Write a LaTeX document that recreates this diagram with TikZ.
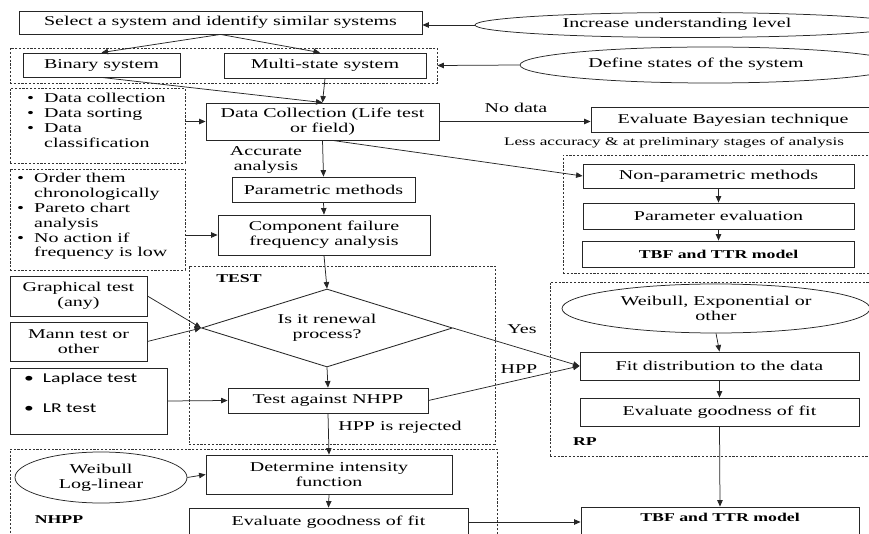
\documentclass[tikz,border=0pt]{standalone}
\usepackage{fontspec}
\setmainfont{Liberation Serif}[FakeStretch=1.48]
\newfontfamily\sansf{Carlito}[FakeStretch=1.45]
\usetikzlibrary{shapes.geometric,arrows.meta}
\newcommand{\fsz}{\fontsize{13.5}{14.8}\selectfont}
\newcommand{\fbz}{\fontsize{12}{14}\selectfont\bfseries}
\begin{document}
\begin{tikzpicture}[x=1pt,y=-1pt,
  box/.style={draw=black!85, line width=0.85pt, inner sep=0pt, align=center, font=\fsz},
  dbox/.style={draw=black!80, line width=0.7pt, dash pattern=on 2.2pt off 1.6pt, inner sep=0pt},
  ell/.style={ellipse, draw=black!85, line width=0.75pt, inner sep=0pt, align=center, font=\fsz},
  lbl/.style={inner sep=0pt, align=center, font=\fsz},
  hd/.style={inner sep=0pt, font=\fbz},
  arr/.style={draw=black!85, line width=0.75pt, -{Triangle[length=6.5pt,width=5.5pt]}},
]
\useasboundingbox (0,0) rectangle (869,534);
% dashed groups
\node[dbox, minimum width=427pt, minimum height=35pt] (row) at (223.5,65.5) {};
\node[dbox, minimum width=175pt, minimum height=75pt] (l1) at (97.5,125.5) {};
\node[dbox, minimum width=175pt, minimum height=101pt] (l2) at (97.5,219.5) {};
\node[dbox, minimum width=312pt, minimum height=118pt] (np) at (719,214) {};
\node[dbox, minimum width=306pt, minimum height=178pt] (test) at (342,355) {};
\node[dbox, minimum width=325pt, minimum height=174pt] (rp) at (712.5,369) {};
\node[dbox, minimum width=487pt, minimum height=111pt] (nh) at (253.5,504.5) {};
% top
\node[box, minimum width=403pt, minimum height=23pt] (sel) at (220.5,22.5) {Select a system and identify similar systems};
\node[ell, minimum width=430pt, minimum height=25pt] (inc) at (690,25) {};
\node[lbl] (inct) at (677,24) {Increase understanding level};
\node[box, minimum width=157pt, minimum height=24pt] (bin) at (101.5,65) {Binary system};
\node[box, minimum width=202pt, minimum height=25pt] (mul) at (325,65.5) {Multi-state system};
\node[ell, minimum width=380pt, minimum height=36pt] (def) at (710,65) {};
\node[lbl] (deft) at (696,64) {Define states of the system};
\node[box, minimum width=233pt, minimum height=37pt] (dc) at (322.5,121.5) {Data Collection (Life test\\or field)};
\node[lbl, anchor=west] (l1t) at (27,122) {\begin{tabular}{@{}l@{\hspace{10pt}}l@{}}\textbullet & Data collection\\ \textbullet & Data sorting\\ \textbullet & Data\\ & classification\end{tabular}};
\node[box, minimum width=285pt, minimum height=25pt] (bay) at (733.5,120) {};
\node[lbl] (bayt) at (733,120) {Evaluate Bayesian technique};
\node[lbl] (nod) at (516,108) {No data};
\node[lbl, font=\fontsize{11.6}{13}\selectfont] (less) at (674,143) {Less accuracy \& at preliminary stages of analysis};
\node[lbl] (acc) at (266,160) {Accurate\\analysis};
\node[box, minimum width=183pt, minimum height=25pt] (pm) at (323.5,189.5) {Parametric methods};
\node[lbl, anchor=west] (l2t) at (17,217) {\begin{tabular}{@{}l@{\hspace{10pt}}l@{}}\textbullet & Order them\\ & chronologically\\ \textbullet & Pareto chart\\ & analysis\\ \textbullet & No action if\\ & frequency is low\end{tabular}};
\node[box, minimum width=212pt, minimum height=40pt] (cf) at (324,235) {Component failure\\frequency analysis};
\node[box, minimum width=271pt, minimum height=24pt] (npm) at (718.5,176) {Non-parametric methods};
\node[box, minimum width=271pt, minimum height=26pt] (pe) at (718.5,216) {Parameter evaluation};
\node[box, minimum width=272pt, minimum height=26pt, font=\fbz] (tbf1) at (718.5,254) {TBF and TTR model};
% test
\node[hd] (testl) at (239,279) {TEST};
\node[diamond, draw=black!85, line width=0.85pt, minimum width=251pt, minimum height=78pt, inner sep=0pt] (dia) at (327,328) {};
\node[lbl] (diat) at (dia.center) {Is it renewal\\process?};
\node[box, minimum width=137pt, minimum height=40pt] (gt) at (78.5,296) {Graphical test\\(any)};
\node[box, minimum width=137pt, minimum height=39pt] (mt) at (78.5,341.5) {Mann test or\\other};
\node[box, minimum width=157pt, minimum height=66pt] (lap) at (88.5,401) {};
\node[lbl, anchor=west, font=\fontsize{13.5}{15}\selectfont\sansf] (lapt) at (24,394) {\begin{tabular}{@{}l@{\hspace{9pt}}l@{}}\textbullet & Laplace test\\ & \\ \textbullet & LR test\end{tabular}};
\node[box, minimum width=200pt, minimum height=25pt] (tn) at (328,400.5) {Test against NHPP};
\node[lbl] (hrej) at (400,427) {HPP is rejected};
\node[lbl] (yes) at (522,329) {Yes};
\node[lbl] (hpp) at (519,369) {HPP};
% RP
\node[ell, minimum width=308pt, minimum height=49pt] (wb) at (716,308.5) {Weibull, Exponential or\\other};
\node[box, minimum width=279pt, minimum height=28pt] (fit) at (719.5,366) {Fit distribution to the data};
\node[box, minimum width=279pt, minimum height=28pt] (egf) at (719.5,412) {Evaluate goodness of fit};
\node[hd] (rpl) at (585,442) {RP};
% NHPP
\node[ell, minimum width=172pt, minimum height=51pt] (wl) at (101,477.5) {Weibull\\Log-linear};
\node[box, minimum width=246pt, minimum height=39pt] (di) at (329,474.5) {Determine intensity\\function};
\node[box, minimum width=279pt, minimum height=28pt] (egn) at (328.5,522) {Evaluate goodness of fit};
\node[hd] (nhl) at (59,520) {NHPP};
\node[box, minimum width=278pt, minimum height=34pt] (tbf2) at (720,524) {};
\node[hd] (tbf2t) at (720,517) {TBF and TTR model};
% arrows
\draw[arr] (inc.west) -- (inc.west -| sel.east);
\draw[arr] (def.west) -- (row.east);
\draw[arr] (sel.south) -- (bin.north);
\draw[arr] (sel.south) -- ([xshift=-5pt]mul.north);
\draw[arr] (bin.south) -- (dc.north);
\draw[arr] (mul.south) -- (dc.north);
\draw[arr] (l1.east |- dc.west) -- (dc.west);
\draw[arr] (dc.east) -- (dc.east -| bay.west);
\draw[arr] ([xshift=10pt]dc.south) -- (npm.west);
\draw[arr] (dc.south) -- (pm.north);
\draw[arr] (pm.south) -- (cf.north);
\draw[arr] (l2.east |- cf.west) -- (cf.west);
\draw[arr] (npm.south) -- (pe.north);
\draw[arr] (pe.south) -- (tbf1.north);
\draw[arr] (cf.south) -- (dia.north);
\draw[arr] (gt.east) -- (dia.west);
\draw[arr] (mt.east) -- (dia.west);
\draw[arr] (dia.south) -- (tn.north);
\draw[arr] (lap.east) -- (tn.west);
\draw[arr] (dia.east) -- (fit.west);
\draw[arr] (tn.east) -- (fit.west);
\draw[arr] (tn.south) -- (di.north);
\draw[arr] (wb.south) -- (fit.north);
\draw[arr] (fit.south) -- (egf.north);
\draw[arr] (egf.south) -- (tbf2.north);
\draw[arr] (wl.east) -- (di.west);
\draw[arr] (di.south) -- (egn.north);
\draw[arr] (egn.east) -- (egn.east -| tbf2.west);
\end{tikzpicture}
\end{document}
